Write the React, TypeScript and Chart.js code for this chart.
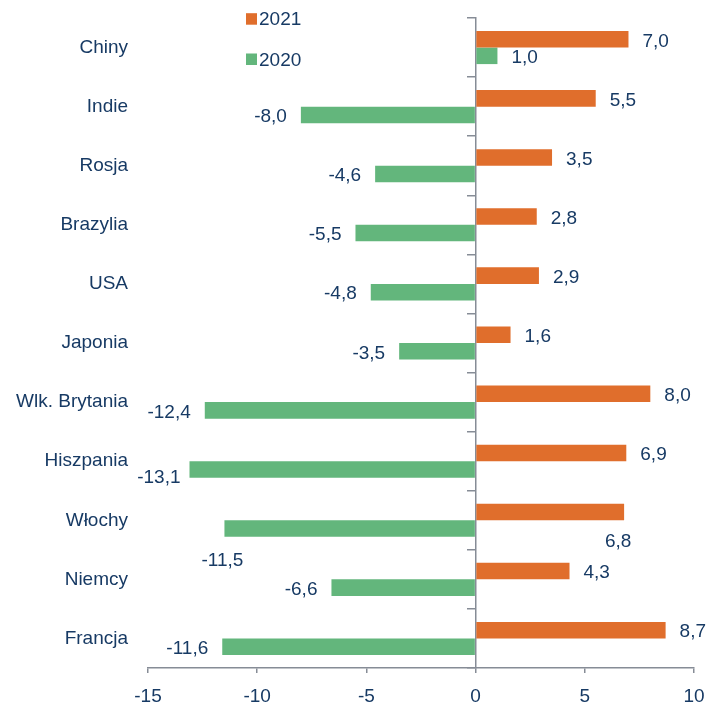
import React, { useEffect, useRef } from 'react';
import { Chart, registerables } from 'chart.js';

Chart.register(...registerables);

// ---- data ----
const categories = ['Chiny', 'Indie', 'Rosja', 'Brazylia', 'USA', 'Japonia', 'Wlk. Brytania', 'Hiszpania', 'Włochy', 'Niemcy', 'Francja'];
const seriesNames = ['2021', '2020'];
const values2021 = [7.0, 5.5, 3.5, 2.8, 2.9, 1.6, 8.0, 6.9, 6.8, 4.3, 8.7];
const values2020 = [1.0, -8.0, -4.6, -5.5, -4.8, -3.5, -12.4, -13.1, -11.5, -6.6, -11.6];
const xMin = -15;
const xMax = 10;
const xStep = 5;

// ---- style ----
const FONT = '"Liberation Sans Narrow", "Arial Narrow", "Liberation Sans", Arial, sans-serif';
const FONT_SIZE = 19;
const TEXT = '#173A64';
const GRAY = '#868C96';
const ORANGE = '#E06E2C';
const GREEN = '#63B67C';

// label placement tweaks (series index, category index)
const labelNudges = [
  { series: 0, index: 8, align: 'center', dx: -6, dy: 30 },
  { series: 1, index: 8, align: 'center', dx: -2, dy: 32 },
  { series: 1, index: 7, gap: 9, dy: 8 },
];

const fmt = (v: number) => v.toFixed(1).replace('.', ',');

const barLabelPlugin = {
  id: 'barLabels',
  afterDatasetsDraw(chart: any) {
    const ctx = chart.ctx;
    ctx.save();
    ctx.font = `${FONT_SIZE}px ${FONT}`;
    ctx.fillStyle = TEXT;
    ctx.textBaseline = 'middle';
    chart.data.datasets.forEach((ds: any, di: number) => {
      const meta = chart.getDatasetMeta(di);
      meta.data.forEach((bar: any, i: number) => {
        const v = ds.data[i] as number;
        const text = fmt(v);
        const nudge: any = labelNudges.find((n) => n.series === di && n.index === i) || {};
        const gap = nudge.gap ?? 14;
        const dy = nudge.dy ?? 2;
        let x: number;
        let align: CanvasTextAlign;
        if (nudge.align === 'center') {
          x = bar.x + (nudge.dx ?? 0);
          align = 'center';
        } else if (v >= 0) {
          x = bar.x + gap;
          align = 'left';
        } else {
          x = bar.x - gap;
          align = 'right';
        }
        ctx.textAlign = align;
        ctx.fillText(text, x, bar.y + dy);
      });
    });
    ctx.restore();
  },
};

const legendPlugin = {
  id: 'stackedLegend',
  afterDraw(chart: any, _args: any, opts: any) {
    const ctx = chart.ctx;
    ctx.save();
    ctx.font = `${FONT_SIZE}px ${FONT}`;
    ctx.textBaseline = 'middle';
    ctx.textAlign = 'left';
    chart.data.datasets.forEach((ds: any, i: number) => {
      const cy = opts.y + i * opts.rowGap;
      ctx.fillStyle = ds.backgroundColor;
      ctx.fillRect(opts.x, cy - 6, 11, 11.5);
      ctx.fillStyle = TEXT;
      ctx.fillText(ds.label, opts.x + 13, cy + 1);
    });
    ctx.restore();
  },
};

export default function App() {
  const ref = useRef<HTMLCanvasElement | null>(null);

  useEffect(() => {
    if (!ref.current) return;
    const chart = new Chart(ref.current, {
      type: 'bar',
      data: {
        labels: categories,
        datasets: [
          { label: seriesNames[0], data: values2021, backgroundColor: ORANGE, borderWidth: 0 },
          { label: seriesNames[1], data: values2020, backgroundColor: GREEN, borderWidth: 0 },
        ],
      },
      options: {
        indexAxis: 'y',
        responsive: false,
        animation: false,
        devicePixelRatio: 1,
        layout: { padding: { top: 18, right: 14, left: 0, bottom: 0 } },
        datasets: { bar: { barPercentage: 1, categoryPercentage: 0.56 } },
        plugins: {
          legend: { display: false },
          tooltip: { enabled: false },
          stackedLegend: { x: 246, y: 19.2, rowGap: 40.3 },
        } as any,
        scales: {
          x: {
            type: 'linear',
            min: xMin,
            max: xMax,
            position: 'bottom',
            ticks: {
              stepSize: xStep,
              color: TEXT,
              font: { family: FONT, size: FONT_SIZE },
              padding: 12,
              callback: (v: any) => String(v),
            },
            grid: { drawOnChartArea: false, drawTicks: true, tickLength: 5, color: GRAY, lineWidth: 1.5 },
            border: { display: true, color: GRAY, width: 1.5 },
            afterFit: (s: any) => { s.height = 37; s.paddingLeft = 0; s.paddingRight = 0; },
          },
          y: {
            type: 'category',
            position: 'left',
            offset: true,
            ticks: {
              color: TEXT,
              font: { family: FONT, size: FONT_SIZE },
              padding: 20,
            },
            grid: { display: false, drawTicks: false },
            border: { display: false },
            afterFit: (s: any) => { s.width = 148; s.paddingTop = 0; s.paddingBottom = 0; },
          },
          yZero: {
            type: 'category',
            axis: 'y',
            position: { x: 0 },
            offset: true,
            ticks: { display: false },
            grid: { offset: true, drawOnChartArea: false, drawTicks: true, tickLength: 8, color: GRAY, lineWidth: 1.5 },
            border: { display: true, color: GRAY, width: 1.5 },
            afterFit: (s: any) => { s.paddingTop = 0; s.paddingBottom = 0; },
          },
        } as any,
      },
      plugins: [barLabelPlugin, legendPlugin],
    });
    return () => chart.destroy();
  }, []);

  return (
    <div style={{ position: 'fixed', left: 0, top: 0, width: 708, height: 705, background: '#fff' }}>
      <canvas ref={ref} width={708} height={705} style={{ display: 'block' }} />
    </div>
  );
}
